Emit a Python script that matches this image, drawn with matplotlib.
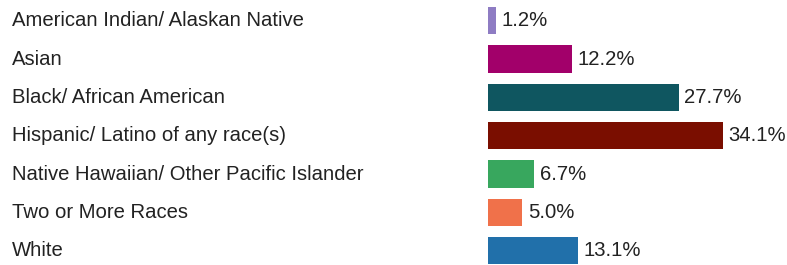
import matplotlib
matplotlib.use("Agg")
import matplotlib.pyplot as plt
import matplotlib.transforms as mtransforms

categories = [
    "American Indian/ Alaskan Native",
    "Asian",
    "Black/ African American",
    "Hispanic/ Latino of any race(s)",
    "Native Hawaiian/ Other Pacific Islander",
    "Two or More Races",
    "White",
]
values = [1.2, 12.2, 27.7, 34.1, 6.7, 5.0, 13.1]
value_labels = ["1.2%", "12.2%", "27.7%", "34.1%", "6.7%", "5.0%", "13.1%"]
colors = ["#8E7CC3", "#A2006A", "#0F5660", "#7A0E00", "#38A75E", "#F0714A", "#2170AA"]

W, H = 787, 265
dpi = 100
fig = plt.figure(figsize=(W / dpi, H / dpi), dpi=dpi)
plt.rcParams['font.family'] = ['Liberation Sans', 'DejaVu Sans']

x0_px = 488
px_per_unit = (723.3 - 488.3) / 34.1
ax = fig.add_axes([x0_px / W, 0, 1 - x0_px / W, 1])
ax.set_xlim(0, (W - x0_px) / px_per_unit)
spacing = 38.33
first_c = 20.7
ax.set_ylim((H - first_c) / spacing, -first_c / spacing)
ax.axis('off')

ypos = list(range(len(categories)))
ax.barh(ypos, values, height=0.72, color=colors, left=0)

fs = 14.6
offset = mtransforms.offset_copy(ax.transData, fig=fig, x=5.5, y=0, units='dots')
for y, v, lab in zip(ypos, values, value_labels):
    ax.text(v, y, lab, transform=offset, ha='left', va='center',
            fontsize=fs, color='#222222')

blend = mtransforms.blended_transform_factory(fig.transFigure, ax.transData)
for y, cat in zip(ypos, categories):
    ax.text(12 / W, y, cat, transform=blend, ha='left', va='center',
            fontsize=fs, color='#222222')

fig.savefig("out.png", dpi=dpi)
